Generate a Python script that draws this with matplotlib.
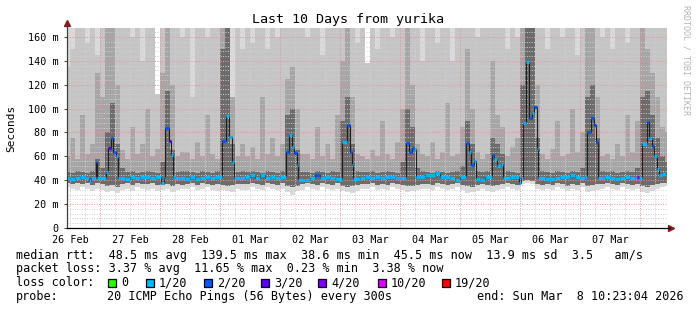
import matplotlib
matplotlib.use("Agg")
import numpy as np
import matplotlib.pyplot as plt
from matplotlib.patches import Rectangle

# time axis: hours since 26 Feb 10:00, smoke in 2 h columns
col_hours = 2
t_end = 240.4

# smoke (ms), one row per day, 12 columns per row
smoke_lo = [34, 33, 32, 34, 33, 31, 33, 32, 30, 31, 29, 32,
            33, 31, 34, 33, 32, 33, 31, 32, 33, 30, 32, 33,
            33, 34, 32, 33, 34, 32, 31, 32, 31, 30, 33, 32,
            32, 34, 33, 32, 34, 33, 32, 33, 30, 28, 31, 32,
            34, 33, 32, 34, 33, 32, 33, 31, 30, 29, 31, 33,
            33, 34, 32, 33, 32, 34, 33, 32, 30, 31, 32, 33,
            33, 32, 34, 33, 32, 33, 34, 32, 29, 30, 31, 33,
            31, 30, 32, 33, 34, 33, 32, 37, 38, 37, 33, 32,
            33, 32, 34, 33, 31, 33, 32, 34, 30, 31, 32, 33,
            34, 33, 32, 34, 33, 32, 33, 30, 29, 31, 33, 34,
            35]
smoke_core_lo = [38, 37, 38, 37, 38, 36, 38, 37, 35, 36, 34, 37,
                 38, 36, 38, 37, 37, 38, 36, 36, 37, 35, 37, 36,
                 37, 38, 36, 38, 37, 36, 37, 36, 35, 36, 37, 37,
                 37, 38, 37, 36, 38, 37, 36, 38, 35, 34, 35, 37,
                 38, 37, 36, 38, 37, 36, 38, 35, 34, 35, 36, 37,
                 37, 38, 36, 37, 36, 38, 37, 36, 35, 35, 36, 37,
                 37, 36, 38, 37, 36, 37, 38, 36, 35, 34, 36, 37,
                 36, 35, 36, 37, 38, 37, 36, 39, 40, 39, 37, 36,
                 37, 36, 38, 37, 35, 37, 36, 38, 35, 36, 37, 37,
                 38, 37, 36, 38, 37, 36, 37, 35, 34, 36, 37, 38,
                 38]
smoke_dark_top = [47, 46, 48, 47, 46, 48, 58, 50, 80, 105, 70, 50,
                  47, 48, 46, 47, 48, 47, 46, 55, 115, 65, 47, 48,
                  48, 47, 46, 48, 47, 46, 48, 150, 168, 70, 47, 48,
                  47, 48, 47, 46, 48, 47, 46, 48, 95, 100, 65, 47,
                  47, 46, 48, 47, 46, 48, 47, 90, 110, 70, 48, 47,
                  47, 48, 46, 47, 48, 47, 46, 55, 100, 85, 50, 48,
                  47, 46, 48, 47, 46, 47, 48, 52, 90, 70, 48, 47,
                  48, 75, 70, 62, 48, 47, 46, 120, 168, 168, 75, 48,
                  47, 46, 48, 47, 46, 48, 47, 50, 110, 120, 75, 48,
                  47, 48, 46, 47, 48, 47, 50, 110, 115, 95, 75, 60,
                  55]
smoke_mid_top = [60, 75, 58, 95, 62, 70, 130, 110, 168, 168, 120, 65,
                 58, 85, 62, 70, 100, 60, 66, 130, 168, 120, 60, 64,
                 64, 58, 72, 60, 95, 62, 58, 168, 168, 110, 60, 70,
                 60, 68, 58, 110, 62, 75, 60, 70, 125, 135, 100, 62,
                 62, 58, 85, 60, 70, 58, 95, 140, 168, 110, 62, 60,
                 58, 65, 60, 90, 62, 58, 72, 100, 168, 120, 70, 62,
                 60, 72, 58, 64, 105, 60, 62, 85, 150, 100, 64, 58,
                 62, 140, 95, 85, 60, 68, 75, 168, 168, 168, 120, 62,
                 58, 66, 90, 60, 62, 100, 64, 80, 168, 168, 110, 60,
                 62, 58, 70, 60, 95, 64, 90, 168, 150, 130, 110, 85,
                 80]
smoke_light_top = [135, 150, 168, 168, 155, 168, 145, 168, 170, 170, 170, 168,
                   168, 160, 168, 140, 168, 168, 112, 170, 170, 170, 168, 160,
                   168, 110, 168, 168, 160, 168, 168, 170, 170, 110, 168, 150,
                   168, 155, 168, 168, 150, 168, 160, 168, 170, 170, 168, 168,
                   160, 168, 168, 145, 168, 168, 168, 170, 170, 168, 155, 168,
                   138, 168, 150, 168, 168, 160, 168, 168, 170, 170, 168, 140,
                   168, 168, 155, 168, 168, 140, 168, 168, 170, 168, 160, 168,
                   168, 170, 168, 168, 150, 168, 160, 170, 170, 170, 168, 168,
                   150, 168, 168, 160, 168, 168, 145, 168, 170, 170, 168, 160,
                   168, 150, 168, 168, 155, 168, 168, 170, 170, 170, 168, 168,
                   168]
smoke_max = [170, 170, 170, 170, 170, 170, 170, 170, 170, 170, 170, 170,
             170, 170, 170, 170, 170, 170, 112, 170, 170, 170, 170, 170,
             170, 170, 170, 170, 170, 170, 170, 170, 170, 170, 170, 170,
             170, 170, 170, 170, 170, 170, 170, 170, 170, 170, 170, 170,
             170, 170, 170, 170, 170, 170, 170, 170, 170, 170, 170, 170,
             138, 170, 170, 170, 170, 170, 170, 170, 170, 170, 170, 170,
             170, 170, 170, 170, 170, 170, 170, 170, 170, 170, 170, 170,
             170, 170, 170, 170, 170, 170, 170, 170, 170, 170, 170, 170,
             170, 170, 170, 170, 170, 170, 170, 170, 170, 170, 170, 170,
             170, 170, 170, 170, 170, 170, 170, 170, 170, 170, 170, 170,
             170]

# median rtt (hours since start, ms, lost pings of 20)
med_t = [0, 2, 4, 6, 8, 9.6, 10.4, 12.4, 12.8,
         14, 16.4, 17.2, 18.4, 19.2, 20.4, 21.2,
         22, 24, 26, 28, 30, 32, 34, 36, 38.4,
         39.6, 40, 41.6, 42.4, 43.2,
         44, 46, 48, 50, 52, 54, 56, 58, 60,
         62.8, 64.4, 65.6, 66.8, 67.6,
         70, 72, 74, 76, 78, 80, 82, 84,
         86, 88.4, 89.6, 90.8, 91.6, 92.8, 93.2,
         96, 98, 100, 102, 104, 106, 108,
         110.8, 112.8, 114, 114.8, 115.2,
         118, 120, 122, 124, 126, 128, 130, 132, 134,
         136.4, 137.6, 138.8, 139.6, 140.4,
         142, 144, 146, 148, 150, 152, 154, 156, 158,
         160.4, 161.6, 162.4, 163.6, 164.4, 166, 168,
         170.8, 171.6, 172.8, 174.4, 175.2,
         178, 180, 181.6, 182.4,
         183.2, 184.4, 185.6, 186.8, 187.6, 188.8, 189.2,
         192, 194, 196, 198, 200, 202, 204, 206, 208,
         208.8, 210.4, 211.6, 212.4, 213.2,
         216, 218, 220, 222, 224, 226, 228, 228.8, 229.6,
         230.8, 232.8, 233.6, 234.8, 235.6, 236.8, 237.6, 238.8]
med_v = [42, 41, 42, 43, 42, 39, 42, 55, 42,
         42, 47, 67, 75, 64, 60, 42,
         42, 41, 43, 42, 43, 43, 42, 43, 38,
         42, 84, 73, 61, 43,
         42, 42, 41, 43, 41, 42, 43, 42, 43,
         73, 94, 76, 55, 42,
         42, 43, 44, 42, 44, 42, 43, 42,
         43, 64, 78, 68, 63, 53, 40,
         40, 42, 44, 42, 43, 42, 41,
         72, 86, 64, 53, 41,
         42, 43, 42, 43, 42, 43, 43, 42, 42,
         71, 64, 67, 66, 43,
         43, 44, 44, 46, 43, 43, 42, 40, 43,
         71, 64, 53, 56, 41, 40, 43,
         61, 58, 52, 54, 42,
         43, 43, 38, 42,
         88, 139, 92, 96, 101, 66, 42,
         41, 41, 42, 43, 43, 44, 43, 42, 43,
         80, 92, 86, 72, 42,
         43, 42, 41, 42, 43, 42, 42, 43, 42,
         70, 89, 75, 69, 60, 49, 44, 45]
med_loss = [1, 1, 1, 1, 1, 1, 1, 2, 1,
            1, 1, 3, 2, 2, 1, 1,
            1, 1, 1, 1, 1, 1, 1, 1, 1,
            1, 2, 3, 1, 1,
            1, 1, 1, 1, 1, 1, 1, 1, 1,
            2, 1, 1, 1, 1,
            1, 1, 1, 1, 1, 1, 1, 1,
            1, 2, 1, 1, 2, 1, 1,
            1, 1, 2, 1, 1, 1, 1,
            1, 2, 2, 1, 1,
            1, 1, 1, 1, 1, 1, 1, 1, 1,
            2, 2, 2, 1, 1,
            1, 1, 1, 1, 1, 1, 1, 1, 1,
            2, 1, 2, 1, 1, 1, 1,
            2, 1, 1, 1, 1,
            1, 1, 1, 1,
            1, 1, 2, 1, 2, 1, 1,
            1, 1, 1, 1, 1, 1, 1, 1, 1,
            2, 2, 2, 2, 1,
            1, 1, 1, 1, 1, 1, 1, 4, 1,
            1, 2, 1, 2, 1, 1, 1, 1]

day_labels = ["26 Feb", "27 Feb", "28 Feb", "01 Mar", "02 Mar",
              "03 Mar", "04 Mar", "05 Mar", "06 Mar", "07 Mar"]
y_labels = ["0", "20 m", "40 m", "60 m", "80 m", "100 m", "120 m", "140 m", "160 m"]
loss_bins = [0, 1, 2, 3, 4, 10, 19]
loss_names = ["0", "1/20", "2/20", "3/20", "4/20", "10/20", "19/20"]
loss_colors = ["#26ff00", "#00b8ff", "#0059ff", "#5e00ff", "#7e00ff", "#dd00ff", "#ff0000"]

mono = "DejaVu Sans Mono"
W, H = 697, 310
fig = plt.figure(figsize=(W / 100, H / 100), dpi=100)
ax = fig.add_axes([67 / W, 1 - 228 / H, 600 / W, 200 / H])

cx = np.arange(len(smoke_lo)) * col_hours
lo = np.array(smoke_lo)
core = np.array(smoke_core_lo)
layers = [(lo, np.array(smoke_max), "#dadada"),
          (core, np.array(smoke_light_top), "#c5c5c5"),
          (core, np.array(smoke_mid_top), "#a6a6a6"),
          (core, np.array(smoke_dark_top), "#6c6c6c")]
for bot, top, c in layers:
    ax.bar(cx, top - bot, bottom=bot, width=col_hours, align="edge",
           color=c, linewidth=0, antialiased=False, zorder=1)

# grid
dot = (0, (1, 1.5))
for y in np.arange(4, 168, 4):
    if y % 20:
        ax.axhline(y, color="#cfcfcf", lw=0.7, ls=dot, zorder=2)
for x in np.arange(2, t_end + 1, 6):
    if (x - 14) % 24:
        ax.axvline(x, color="#cfcfcf", lw=0.7, ls=dot, zorder=2)
for y in range(20, 161, 20):
    ax.axhline(y, color="#f09090", lw=0.7, ls=dot, zorder=2)
for x in np.arange(14, t_end, 24):
    ax.axvline(x, color="#f09090", lw=0.7, ls=dot, zorder=2)

# median line + loss colour
tt = np.append(med_t, t_end)
vv = np.append(med_v, med_v[-1])
ax.step(tt, vv, where="post", color="#202020", lw=0.8, zorder=3)
seg_cols = [loss_colors[loss_bins.index(l)] for l in med_loss]
ax.hlines(med_v, tt[:-1], tt[1:], colors=seg_cols, lw=2.3, zorder=4,
          capstyle="butt")

ax.set_xlim(0.8, 240.8)
ax.set_ylim(0, 167.5)
ax.set_xticks(np.arange(2, 240, 24))
ax.set_xticklabels(day_labels, family=mono, fontsize=7.3)
ax.set_yticks(range(0, 161, 20))
ax.set_yticklabels(y_labels, family=mono, fontsize=7.3)
ax.tick_params(axis="x", length=0, pad=5)
ax.tick_params(axis="y", length=2, width=0.7, color="#404040", pad=4)
for s in ax.spines.values():
    s.set_visible(False)
ax.set_facecolor("white")

# axes with arrows
ax.plot([0, 0], [0, 1.02], transform=ax.transAxes, color="#404040", lw=0.9, clip_on=False, zorder=5)
ax.plot([0, 1.005], [0, 0], transform=ax.transAxes, color="black", lw=0.9, clip_on=False, zorder=5)
ax.plot(0, 1.025, marker="^", ms=4, color="#8b1a1a", transform=ax.transAxes, clip_on=False)
ax.plot(1.007, 0, marker=">", ms=4, color="#8b1a1a", transform=ax.transAxes, clip_on=False)

def ftext(x, y, s, **kw):
    kw.setdefault("family", mono)
    kw.setdefault("va", "center")
    fig.text(x / W, 1 - y / H, s, **kw)

ftext(348, 19, "Last 10 Days from yurika", ha="center", fontsize=9.6)
ftext(11, 128, "Seconds", ha="center", rotation=90, fontsize=8)
ftext(686, 60, "RRDTOOL / TOBI OETIKER", ha="center", rotation=270, fontsize=6,
      color="#b4b4b4")

fs = 8.5
ftext(16, 255, "median rtt:  48.5 ms avg  139.5 ms max  38.6 ms min  45.5 ms now  13.9 ms sd  3.5   am/s", fontsize=fs)
ftext(16, 268.5, "packet loss: 3.37 % avg  11.65 % max  0.23 % min  3.38 % now", fontsize=fs)
ftext(16, 282.5, "loss color:", fontsize=fs)
sq_x = [108, 146, 204, 261, 318, 378, 442]
for x, name, c in zip(sq_x, loss_names, loss_colors):
    fig.add_artist(Rectangle((x / W, 1 - 287 / H), 8 / W, 8 / H, transform=fig.transFigure,
                             facecolor=c, edgecolor="black", lw=0.9))
    ftext(x + 13, 282.5, name, fontsize=fs)
ftext(16, 296.5, "probe:", fontsize=fs)
ftext(107, 296.5, "20 ICMP Echo Pings (56 Bytes) every 300s", fontsize=fs)
ftext(477, 296.5, "end: Sun Mar  8 10:23:04 2026", fontsize=fs)

fig.savefig("out.png", dpi=100)
